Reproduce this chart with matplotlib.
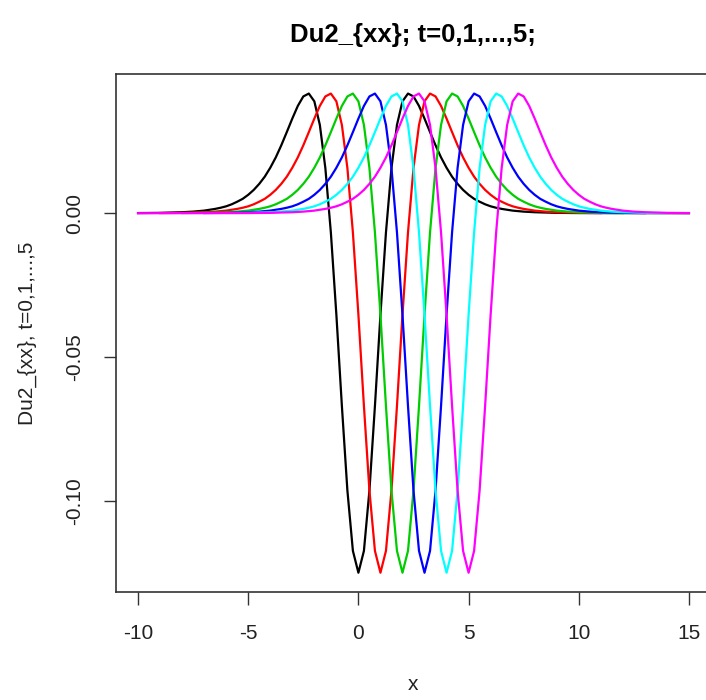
import numpy as np
import matplotlib
matplotlib.use("Agg")
import matplotlib.pyplot as plt

# one side of the Du2_xx profile (offset from the trough)
offsets = [0.0, 0.25, 0.5, 0.75, 1.0, 1.25, 1.5, 1.75, 2.0, 2.25, 2.5, 2.75,
           3.0, 3.25, 3.5, 3.75, 4.0, 4.25, 4.5, 4.75, 5.0, 5.25, 5.5, 5.75,
           6.0, 6.25, 6.5, 6.75, 7.0, 7.5, 8.0, 9.0, 10.0, 15.0]
profile = [-0.1250, -0.1174, -0.0964, -0.0670, -0.0353, -0.0067, 0.0157,
           0.0307, 0.0389, 0.0416, 0.0406, 0.0373, 0.0329, 0.0282, 0.0236,
           0.0194, 0.0158, 0.0127, 0.0102, 0.0081, 0.0064, 0.0050, 0.0040,
           0.0031, 0.0024, 0.0019, 0.0015, 0.0012, 0.0009, 0.00055, 0.00034,
           0.00012, 0.00005, 0.0]

# trough position for t = 0,1,...,5
centers = [0, 1, 2, 3, 4, 5]
colors = ["black", "#FF0000", "#00CD00", "#0000FF", "#00FFFF", "#FF00FF"]
xmin, xmax = -10, 15

plt.rcParams['font.family'] = ['Liberation Sans', 'DejaVu Sans']

fig = plt.figure(figsize=(7.06, 7.0), dpi=100)
ax = fig.add_axes([116/706, 108/700, 595/706, 518/700])

off = np.array(offsets)
prof = np.array(profile)
d = np.concatenate([-off[::-1], off[1:]])
v = np.concatenate([prof[::-1], prof[1:]])

for c, col in zip(centers, colors):
    x = c + d
    keep = (x >= xmin) & (x <= xmax)
    ax.plot(x[keep], v[keep], color=col, lw=1.6)

ax.set_xlim(-11, 16)
ax.set_ylim(-0.1317, 0.0484)
ax.set_xticks([-10, -5, 0, 5, 10, 15])
ax.set_xticklabels(["-10", "-5", "0", "5", "10", "15"])
ax.set_yticks([0.0, -0.05, -0.10])
ax.set_yticklabels(["0.00", "-0.05", "-0.10"], rotation=90, va="center")
ax.tick_params(length=9, width=1, colors="#333333", labelcolor="#222222",
               labelsize=15)
ax.tick_params(axis="x", pad=14)
ax.tick_params(axis="y", pad=14)
for s in ax.spines.values():
    s.set_color("#333333")
    s.set_linewidth(1.2)

ax.set_xlabel("x", fontsize=15, color="#222222")
ax.xaxis.set_label_coords(297/595, -83/518)
ax.set_ylabel("Du2_{xx}, t=0,1,...,5", fontsize=15, color="#222222",
              labelpad=20)
fig.text(413/706, 1 - 42/700, "Du2_{xx}; t=0,1,...,5;", ha="center",
         va="baseline", fontsize=18.5, fontweight="bold")

fig.savefig("out.png", dpi=100)
